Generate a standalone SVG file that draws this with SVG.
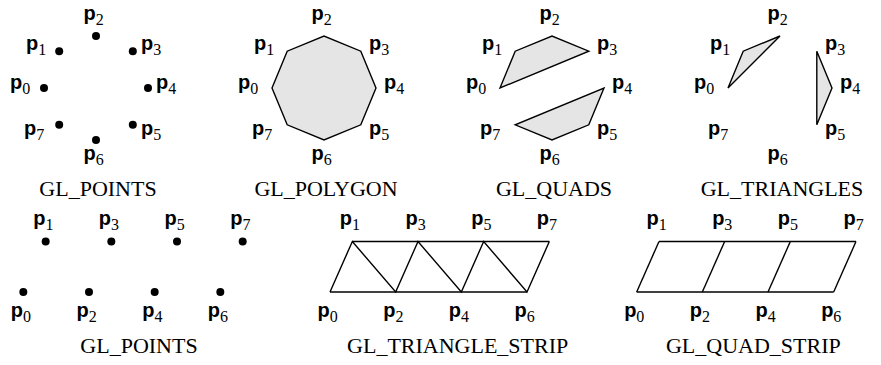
<svg xmlns="http://www.w3.org/2000/svg" width="881" height="365" viewBox="0 0 881 365">
<style>
.lbl{font-family:"Liberation Sans",Arial,sans-serif;font-weight:bold;font-size:20px;fill:#000}
.sub{font-family:"Liberation Serif","Times New Roman",serif;font-weight:normal;font-size:16px}
.cap{font-family:"Liberation Serif","Times New Roman",serif;font-size:22px;fill:#000;text-anchor:middle}
.dot{fill:#000}
.shape{fill:#e5e5e5;stroke:#000;stroke-width:1.4;stroke-linejoin:miter}
.edge{fill:none;stroke:#000;stroke-width:1.4}
</style>
<rect width="881" height="365" fill="#fff"/>

<!-- Top row, panel 1: GL_POINTS -->
<g id="top-points" transform="translate(96,0)">
  <circle class="dot" cx="-52" cy="88" r="4"/>
  <circle class="dot" cx="-36.8" cy="51.2" r="4"/>
  <circle class="dot" cx="0" cy="36" r="4"/>
  <circle class="dot" cx="36.8" cy="51.2" r="4"/>
  <circle class="dot" cx="52" cy="88" r="4"/>
  <circle class="dot" cx="36.8" cy="124.8" r="4"/>
  <circle class="dot" cx="0" cy="140" r="4"/>
  <circle class="dot" cx="-36.8" cy="124.8" r="4"/>
  <text class="lbl" x="-86" y="89">p<tspan class="sub" dy="5">0</tspan></text>
  <text class="lbl" x="-70" y="50">p<tspan class="sub" dy="5">1</tspan></text>
  <text class="lbl" x="-12.5" y="20">p<tspan class="sub" dy="5">2</tspan></text>
  <text class="lbl" x="45" y="50">p<tspan class="sub" dy="5">3</tspan></text>
  <text class="lbl" x="60" y="89">p<tspan class="sub" dy="5">4</tspan></text>
  <text class="lbl" x="45" y="135">p<tspan class="sub" dy="5">5</tspan></text>
  <text class="lbl" x="-12.5" y="160">p<tspan class="sub" dy="5">6</tspan></text>
  <text class="lbl" x="-72" y="135">p<tspan class="sub" dy="5">7</tspan></text>
  <text class="cap" x="2" y="196">GL_POINTS</text>
</g>

<!-- Top row, panel 2: GL_POLYGON -->
<g id="top-polygon" transform="translate(324,0)">
  <polygon class="shape" points="-52,88 -36.8,51.2 0,36 36.8,51.2 52,88 36.8,124.8 0,140 -36.8,124.8"/>
  <text class="lbl" x="-86" y="89">p<tspan class="sub" dy="5">0</tspan></text>
  <text class="lbl" x="-70" y="50">p<tspan class="sub" dy="5">1</tspan></text>
  <text class="lbl" x="-12.5" y="20">p<tspan class="sub" dy="5">2</tspan></text>
  <text class="lbl" x="45" y="50">p<tspan class="sub" dy="5">3</tspan></text>
  <text class="lbl" x="60" y="89">p<tspan class="sub" dy="5">4</tspan></text>
  <text class="lbl" x="45" y="135">p<tspan class="sub" dy="5">5</tspan></text>
  <text class="lbl" x="-12.5" y="160">p<tspan class="sub" dy="5">6</tspan></text>
  <text class="lbl" x="-72" y="135">p<tspan class="sub" dy="5">7</tspan></text>
  <text class="cap" x="2" y="196">GL_POLYGON</text>
</g>

<!-- Top row, panel 3: GL_QUADS -->
<g id="top-quads" transform="translate(552,0)">
  <polygon class="shape" points="-52,88 -36.8,51.2 0,36 36.8,51.2"/>
  <polygon class="shape" points="52,88 36.8,124.8 0,140 -36.8,124.8"/>
  <text class="lbl" x="-86" y="89">p<tspan class="sub" dy="5">0</tspan></text>
  <text class="lbl" x="-70" y="50">p<tspan class="sub" dy="5">1</tspan></text>
  <text class="lbl" x="-12.5" y="20">p<tspan class="sub" dy="5">2</tspan></text>
  <text class="lbl" x="45" y="50">p<tspan class="sub" dy="5">3</tspan></text>
  <text class="lbl" x="60" y="89">p<tspan class="sub" dy="5">4</tspan></text>
  <text class="lbl" x="45" y="135">p<tspan class="sub" dy="5">5</tspan></text>
  <text class="lbl" x="-12.5" y="160">p<tspan class="sub" dy="5">6</tspan></text>
  <text class="lbl" x="-72" y="135">p<tspan class="sub" dy="5">7</tspan></text>
  <text class="cap" x="2" y="196">GL_QUADS</text>
</g>

<!-- Top row, panel 4: GL_TRIANGLES -->
<g id="top-triangles" transform="translate(780,0)">
  <polygon class="shape" points="-52,88 -36.8,51.2 0,36"/>
  <polygon class="shape" points="36.8,51.2 52,88 36.8,124.8"/>
  <text class="lbl" x="-86" y="89">p<tspan class="sub" dy="5">0</tspan></text>
  <text class="lbl" x="-70" y="50">p<tspan class="sub" dy="5">1</tspan></text>
  <text class="lbl" x="-12.5" y="20">p<tspan class="sub" dy="5">2</tspan></text>
  <text class="lbl" x="45" y="50">p<tspan class="sub" dy="5">3</tspan></text>
  <text class="lbl" x="60" y="89">p<tspan class="sub" dy="5">4</tspan></text>
  <text class="lbl" x="45" y="135">p<tspan class="sub" dy="5">5</tspan></text>
  <text class="lbl" x="-12.5" y="160">p<tspan class="sub" dy="5">6</tspan></text>
  <text class="lbl" x="-72" y="135">p<tspan class="sub" dy="5">7</tspan></text>
  <text class="cap" x="2" y="196">GL_TRIANGLES</text>
</g>

<!-- Bottom row, panel 1: GL_POINTS -->
<g id="bottom-points" transform="translate(0,0)">
  <circle class="dot" cx="23.33" cy="292" r="4"/>
  <circle class="dot" cx="89" cy="292" r="4"/>
  <circle class="dot" cx="154.67" cy="292" r="4"/>
  <circle class="dot" cx="220.33" cy="292" r="4"/>
  <circle class="dot" cx="45.67" cy="241.5" r="4"/>
  <circle class="dot" cx="111.33" cy="241.5" r="4"/>
  <circle class="dot" cx="177" cy="241.5" r="4"/>
  <circle class="dot" cx="242.67" cy="241.5" r="4"/>
  <text class="lbl" x="10.8" y="317">p<tspan class="sub" dy="5">0</tspan></text>
  <text class="lbl" x="76.5" y="317">p<tspan class="sub" dy="5">2</tspan></text>
  <text class="lbl" x="142.2" y="317">p<tspan class="sub" dy="5">4</tspan></text>
  <text class="lbl" x="207.8" y="317">p<tspan class="sub" dy="5">6</tspan></text>
  <text class="lbl" x="33.2" y="225">p<tspan class="sub" dy="5">1</tspan></text>
  <text class="lbl" x="98.8" y="225">p<tspan class="sub" dy="5">3</tspan></text>
  <text class="lbl" x="164.5" y="225">p<tspan class="sub" dy="5">5</tspan></text>
  <text class="lbl" x="230.2" y="225">p<tspan class="sub" dy="5">7</tspan></text>
  <text class="cap" x="139" y="353">GL_POINTS</text>
</g>

<!-- Bottom row, panel 2: GL_TRIANGLE_STRIP -->
<g id="bottom-triangle-strip" transform="translate(306.67,0)">
  <g id="connectors-tristrip">
    <polyline class="edge" points="23.33,292 45.67,241.5 89,292 111.33,241.5 154.67,292 177,241.5 220.33,292 242.67,241.5"/>
    <line class="edge" x1="45.67" y1="241.5" x2="242.67" y2="241.5"/>
    <line class="edge" x1="23.33" y1="292" x2="220.33" y2="292"/>
  </g>
  <text class="lbl" x="10.8" y="317">p<tspan class="sub" dy="5">0</tspan></text>
  <text class="lbl" x="76.5" y="317">p<tspan class="sub" dy="5">2</tspan></text>
  <text class="lbl" x="142.2" y="317">p<tspan class="sub" dy="5">4</tspan></text>
  <text class="lbl" x="207.8" y="317">p<tspan class="sub" dy="5">6</tspan></text>
  <text class="lbl" x="33.2" y="225">p<tspan class="sub" dy="5">1</tspan></text>
  <text class="lbl" x="98.8" y="225">p<tspan class="sub" dy="5">3</tspan></text>
  <text class="lbl" x="164.5" y="225">p<tspan class="sub" dy="5">5</tspan></text>
  <text class="lbl" x="230.2" y="225">p<tspan class="sub" dy="5">7</tspan></text>
  <text class="cap" x="151" y="353">GL_TRIANGLE_STRIP</text>
</g>

<!-- Bottom row, panel 3: GL_QUAD_STRIP -->
<g id="bottom-quad-strip" transform="translate(613.33,0)">
  <g id="connectors-quadstrip">
    <line class="edge" x1="45.67" y1="241.5" x2="242.67" y2="241.5"/>
    <line class="edge" x1="23.33" y1="292" x2="220.33" y2="292"/>
    <line class="edge" x1="23.33" y1="292" x2="45.67" y2="241.5"/>
    <line class="edge" x1="89" y1="292" x2="111.33" y2="241.5"/>
    <line class="edge" x1="154.67" y1="292" x2="177" y2="241.5"/>
    <line class="edge" x1="220.33" y1="292" x2="242.67" y2="241.5"/>
  </g>
  <text class="lbl" x="10.8" y="317">p<tspan class="sub" dy="5">0</tspan></text>
  <text class="lbl" x="76.5" y="317">p<tspan class="sub" dy="5">2</tspan></text>
  <text class="lbl" x="142.2" y="317">p<tspan class="sub" dy="5">4</tspan></text>
  <text class="lbl" x="207.8" y="317">p<tspan class="sub" dy="5">6</tspan></text>
  <text class="lbl" x="33.2" y="225">p<tspan class="sub" dy="5">1</tspan></text>
  <text class="lbl" x="98.8" y="225">p<tspan class="sub" dy="5">3</tspan></text>
  <text class="lbl" x="164.5" y="225">p<tspan class="sub" dy="5">5</tspan></text>
  <text class="lbl" x="230.2" y="225">p<tspan class="sub" dy="5">7</tspan></text>
  <text class="cap" x="140" y="353">GL_QUAD_STRIP</text>
</g>
</svg>
